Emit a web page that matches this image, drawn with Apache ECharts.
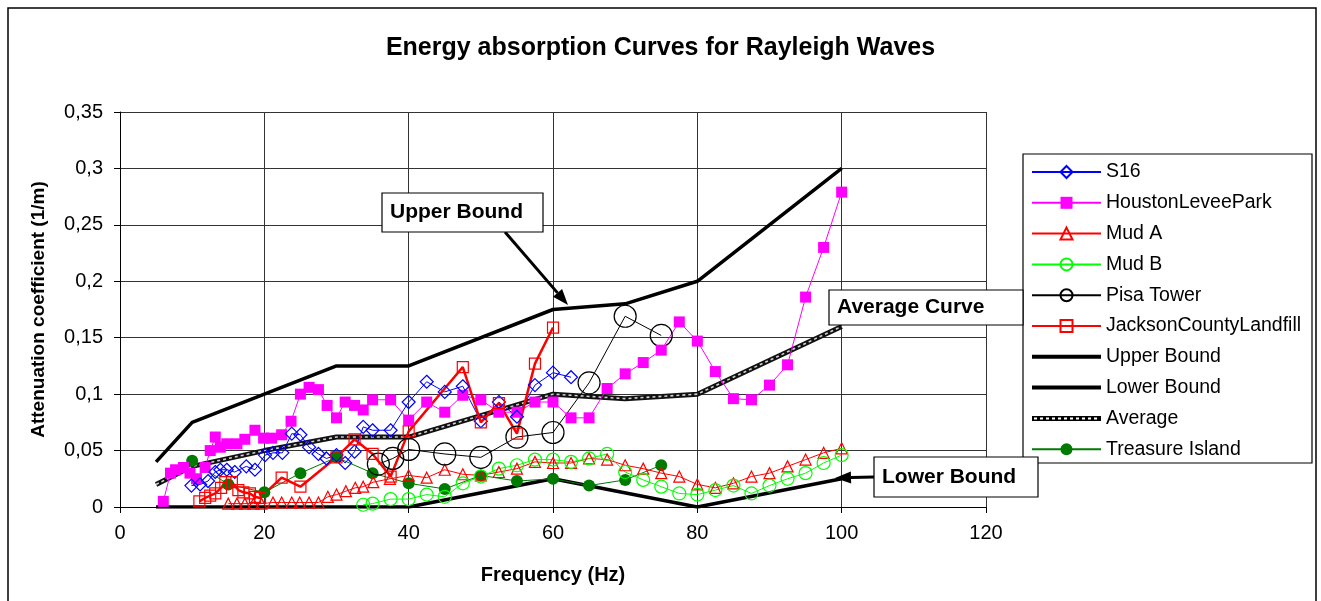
<!DOCTYPE html>
<html>
<head>
<meta charset="utf-8">
<script src="https://cdn.jsdelivr.net/npm/echarts@6/dist/echarts.min.js"></script>
<style>
  html, body { margin: 0; padding: 0; background: #fff; }
  #chart { width: 1321px; height: 601px; }
</style>
</head>
<body>
<div id="chart"></div>
<script>
// ---- data: [frequency Hz, attenuation 1/m] ----
const s16 = [[9.9,0.019],[11.1,0.02],[12.2,0.023],[13.2,0.031],[13.9,0.033],[14.8,0.033],[15.9,0.031],[17.5,0.036],[18.7,0.033],[20.1,0.046],[21.2,0.048],[22.5,0.048],[23.8,0.065],[25,0.064],[26.2,0.053],[27.5,0.047],[28.6,0.043],[30,0.046],[31.2,0.039],[32.5,0.049],[33.7,0.071],[35,0.068],[37.5,0.068],[40,0.093],[42.5,0.111],[45,0.102],[47.5,0.107],[50,0.076],[52.5,0.093],[55,0.08],[57.5,0.108],[60,0.119],[62.5,0.115]]
const houston = [[6,0.005],[7,0.03],[7.7,0.033],[8.8,0.035],[9.7,0.03],[10.6,0.025],[11.8,0.035],[12.5,0.05],[13.2,0.062],[13.9,0.053],[14.8,0.056],[16.2,0.056],[17.3,0.06],[18.7,0.068],[19.9,0.061],[21,0.061],[22.4,0.064],[23.7,0.076],[25,0.1],[26.2,0.106],[27.5,0.104],[28.7,0.09],[30,0.079],[31.2,0.093],[32.5,0.09],[33.7,0.086],[35,0.095],[37.5,0.095],[40,0.077],[42.5,0.093],[45,0.084],[47.5,0.099],[50,0.095],[52.5,0.084],[55,0.084],[57.5,0.093],[60,0.093],[62.5,0.079],[65,0.079],[67.5,0.105],[70,0.118],[72.5,0.128],[75,0.139],[77.5,0.164],[80,0.147],[82.5,0.12],[85,0.096],[87.5,0.095],[90,0.108],[92.5,0.126],[95,0.186],[97.5,0.23],[100,0.279]]
const mudA = [[15,0.003],[16.2,0.003],[17.3,0.003],[18.5,0.003],[19.6,0.003],[21.2,0.004],[22.4,0.004],[23.8,0.004],[24.9,0.004],[26.2,0.004],[27.5,0.004],[28.8,0.009],[30,0.011],[31.3,0.014],[32.6,0.017],[33.7,0.018],[35.1,0.022],[37.4,0.025],[40,0.028],[42.5,0.026],[45,0.033],[47.5,0.029],[50,0.028],[52.5,0.031],[55,0.034],[57.5,0.04],[60,0.039],[62.5,0.039],[65,0.043],[67.5,0.042],[70,0.037],[72.5,0.034],[75,0.03],[77.5,0.027],[80,0.02],[82.5,0.017],[85,0.021],[87.5,0.027],[90,0.03],[92.5,0.036],[95,0.042],[97.5,0.048],[100,0.052]]
const mudB = [[33.7,0.002],[35,0.003],[37.5,0.007],[40,0.007],[42.5,0.011],[45,0.009],[47.5,0.021],[50,0.027],[52.5,0.034],[55,0.037],[57.5,0.042],[60,0.042],[62.5,0.04],[65,0.043],[67.5,0.047],[70,0.031],[72.5,0.024],[75,0.018],[77.5,0.012],[80,0.011],[82.5,0.015],[85,0.019],[87.5,0.012],[90,0.019],[92.5,0.025],[95,0.03],[97.5,0.039],[100,0.046]]
const pisa = [[35.8,0.038],[37.8,0.043],[40,0.051],[45,0.047],[50,0.044],[55,0.062],[60,0.066],[65,0.11],[70,0.169],[75,0.152]]
const jackson = [[11,0.005],[11.8,0.008],[12.5,0.01],[13.2,0.012],[14,0.017],[14.6,0.022],[15.5,0.022],[16.4,0.015],[17.1,0.013],[18,0.012],[18.7,0.009],[19.4,0.008],[22.4,0.026],[25,0.018],[30,0.044],[32.5,0.06],[35,0.047],[37.5,0.027],[40,0.067],[47.5,0.124],[50,0.075],[52.5,0.092],[55,0.065],[57.5,0.127],[60,0.159]]
const upperBound = [[5,0.04],[10,0.075],[30,0.125],[40,0.125],[60,0.175],[70,0.18],[80,0.2],[100,0.3]]
const lowerBound = [[5,0],[40,0],[60,0.025],[80,0],[100,0.025]]
const average = [[5,0.02],[10,0.036],[20,0.05],[30,0.062],[40,0.062],[60,0.1],[70,0.096],[80,0.1],[100,0.16]]
const treasure = [[10,0.041],[15,0.02],[20,0.013],[25,0.03],[30,0.044],[35,0.03],[40,0.021],[45,0.016],[50,0.028],[55,0.023],[60,0.025],[65,0.019],[70,0.024],[75,0.037]]

const FONT = 'Liberation Sans, Arial, sans-serif'

// legend icons for the plain bound lines
const barIcon = 'path://M0,0H69V4H0Z'
let chainIcon = 'path://M0,0H69V5H0Z'
for (let i = 2; i < 66; i += 6) {
  chainIcon += 'M' + i + ',1.5V3.5H' + (i + 3) + 'V1.5Z'
}

const legendData = [
  'S16', 'HoustonLeveePark', 'Mud A', 'Mud B', 'Pisa Tower', 'JacksonCountyLandfill',
  { name: 'Upper Bound', icon: barIcon },
  { name: 'Lower Bound', icon: barIcon },
  { name: 'Average', icon: chainIcon },
  'Treasure Island',
]

// line series with markers
function marked (name, data, color, symbol, size, hollow, width) {
  return {
    name: name,
    type: 'line',
    data: data,
    symbol: symbol,
    symbolSize: size,
    lineStyle: { color: color, width: width || 1 },
    itemStyle: hollow
      ? { color: 'rgba(255,255,255,0)', borderColor: color, borderWidth: 1.2 }
      : { color: color, borderColor: color, borderWidth: 0 },
    emphasis: { disabled: true },
  }
}

function plain (name, data, color, width, type) {
  return {
    name: name,
    type: 'line',
    data: data,
    symbol: 'none',
    itemStyle: { color: '#000' },
    lineStyle: { color: color, width: width, type: type || 'solid' },
    emphasis: { disabled: true },
  }
}

// arrow annotation (line + head)
function arrow (x1, y1, x2, y2) {
  const a = Math.atan2(y2 - y1, x2 - x1)
  const L = 16, W = 6
  const bx = x2 - L * Math.cos(a), by = y2 - L * Math.sin(a)
  const px = -Math.sin(a) * W, py = Math.cos(a) * W
  return [
    { type: 'line', shape: { x1: x1, y1: y1, x2: bx, y2: by }, style: { stroke: '#000', lineWidth: 3 }, z: 100 },
    { type: 'polygon', shape: { points: [[x2, y2], [bx + px, by + py], [bx - px, by - py]] }, style: { fill: '#000' }, z: 100 },
  ]
}

function box (x, y, w, h, text) {
  return [
    { type: 'rect', shape: { x: x, y: y, width: w, height: h }, style: { fill: '#fff', stroke: '#000', lineWidth: 1.2 }, z: 100 },
    { type: 'text', x: x + 8, y: y + h / 2, style: { text: text, font: 'bold 21px ' + FONT, fill: '#000', textVerticalAlign: 'middle' }, z: 101 },
  ]
}

const axisText = { color: '#000', fontSize: 20, fontFamily: FONT }
const nameText = { color: '#000', fontSize: 19, fontWeight: 'bold', fontFamily: FONT }

var option = {
  animation: false,
  backgroundColor: '#fff',
  title: {
    text: 'Energy absorption Curves for Rayleigh Waves',
    left: 'center',
    top: 31,
    textStyle: { color: '#000', fontSize: 25, fontWeight: 'bold', fontFamily: FONT },
  },
  grid: { left: 120, right: 335, top: 112, bottom: 94 },
  xAxis: {
    type: 'value',
    min: 0,
    max: 120,
    interval: 20,
    name: 'Frequency (Hz)',
    nameLocation: 'middle',
    nameGap: 58,
    nameTextStyle: Object.assign({}, nameText, { fontSize: 20 }),
    axisLine: { lineStyle: { color: '#000', width: 1 } },
    axisTick: { length: 6, lineStyle: { color: '#000' } },
    axisLabel: Object.assign({ margin: 16 }, axisText),
    splitLine: { show: true, lineStyle: { color: '#333', width: 1 } },
  },
  yAxis: {
    type: 'value',
    min: 0,
    max: 0.35,
    interval: 0.05,
    name: 'Attenuation coefficient (1/m)',
    nameLocation: 'middle',
    nameGap: 72,
    nameTextStyle: nameText,
    axisLine: { show: true, lineStyle: { color: '#000', width: 1 } },
    axisTick: { show: true, length: 6, lineStyle: { color: '#000' } },
    axisLabel: Object.assign({
      margin: 17,
      formatter: v => v === 0 ? '0' : String(+v.toFixed(2)).replace('.', ','),
    }, axisText),
    splitLine: { show: true, lineStyle: { color: '#333', width: 1 } },
  },
  legend: {
    data: legendData,
    orient: 'vertical',
    left: 1031,
    top: 162,
    padding: 0,
    itemWidth: 69,
    itemHeight: 15,
    itemGap: 10.8,
    textStyle: { color: '#000', fontSize: 19.5, fontFamily: FONT },
    selectedMode: false,
  },
  series: [
    plain('Lower Bound', lowerBound, '#000', 3.5),
    plain('Upper Bound', upperBound, '#000', 3.5),
    plain('Average', average, '#111', 5),
    Object.assign(plain('', average, '#d0d0d0', 1.6, [3, 3]), { legendHoverLink: false }),
    marked('Treasure Island', treasure, '#007a00', 'circle', 12, false),
    marked('Mud A', mudA, '#ff0000', 'triangle', 11, true),
    marked('Mud B', mudB, '#00ff00', 'circle', 13, true),
    marked('Pisa Tower', pisa, '#000', 'circle', 22, true),
    marked('HoustonLeveePark', houston, '#ff00ff', 'rect', 11, false),
    marked('S16', s16, '#0000ff', 'diamond', 13, true),
    marked('JacksonCountyLandfill', jackson, '#ff0000', 'rect', 11, true, 2.5),
  ],
  graphic: [
    // outer frame
    { type: 'rect', shape: { x: 8, y: 8, width: 1308, height: 600 }, style: { fill: 'none', stroke: '#000', lineWidth: 1.5 }, z: 50 },
    // legend frame
    { type: 'rect', shape: { x: 1023, y: 154, width: 289, height: 309 }, style: { fill: 'none', stroke: '#000', lineWidth: 1.2 }, z: 50 },
  ]
    .concat(arrow(505, 232, 568, 305))
    .concat(box(382, 193, 161, 39, 'Upper Bound'))
    .concat(box(829, 290, 194, 35, 'Average Curve'))
    .concat(arrow(874, 477, 835, 478))
    .concat(box(874, 457, 164, 40, 'Lower Bound')),
}

const myChart = echarts.init(document.getElementById('chart'))
myChart.setOption(option)
window.onresize = myChart.resize
</script>
</body>
</html>
